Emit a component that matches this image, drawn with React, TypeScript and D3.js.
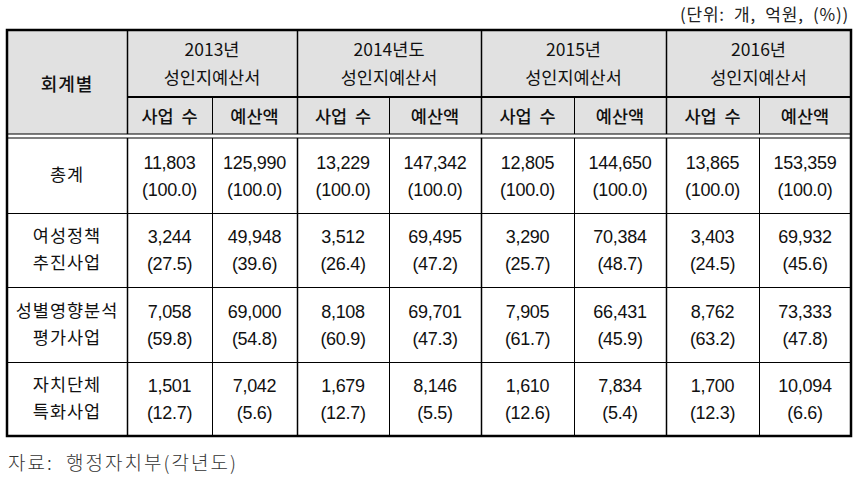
import React, { useEffect, useRef } from "react";
import * as d3 from "d3";

const categories = ["총계", "여성정책\n추진사업", "성별영향분석\n평가사업", "자치단체\n특화사업"];
const years = ["2013년", "2014년도", "2015년", "2016년"];
const subHeaders = ["사업 수", "예산액"];

const counts2013 = [11803, 3244, 7058, 1501];
const countPct2013 = [100.0, 27.5, 59.8, 12.7];
const budget2013 = [125990, 49948, 69000, 7042];
const budgetPct2013 = [100.0, 39.6, 54.8, 5.6];

const counts2014 = [13229, 3512, 8108, 1679];
const countPct2014 = [100.0, 26.4, 60.9, 12.7];
const budget2014 = [147342, 69495, 69701, 8146];
const budgetPct2014 = [100.0, 47.2, 47.3, 5.5];

const counts2015 = [12805, 3290, 7905, 1610];
const countPct2015 = [100.0, 25.7, 61.7, 12.6];
const budget2015 = [144650, 70384, 66431, 7834];
const budgetPct2015 = [100.0, 48.7, 45.9, 5.4];

const counts2016 = [13865, 3403, 8762, 1700];
const countPct2016 = [100.0, 24.5, 63.2, 12.3];
const budget2016 = [153359, 69932, 73333, 10094];
const budgetPct2016 = [100.0, 45.6, 47.8, 6.6];

const unitLabel = "(단위: 개, 억원, (%))";
const headerLabel = "회계별";
const groupSub = "성인지예산서";
const source = "자료:  행정자치부(각년도)";

const W = 858;
const H = 483;
const KR = "'Noto Sans CJK KR', 'Noto Sans', sans-serif";
const NUM = "'Liberation Sans Narrow', 'Liberation Sans', Arial, sans-serif";

export default function App() {
  const svgRef = useRef<SVGSVGElement | null>(null);

  useEffect(() => {
    const svg = d3.select(svgRef.current);
    svg.selectAll("*").remove();

    const valueCols = [
      [counts2013, countPct2013],
      [budget2013, budgetPct2013],
      [counts2014, countPct2014],
      [budget2014, budgetPct2014],
      [counts2015, countPct2015],
      [budget2015, budgetPct2015],
      [counts2016, countPct2016],
      [budget2016, budgetPct2016],
    ];

    // column edges
    const colW = [120, 85, 85, 92, 92, 93, 92, 93, 92];
    const xs = [7, ...Array.from(d3.cumsum(colW)).map((d) => 7 + d)];
    const left = xs[0];
    const right = xs[xs.length - 1];

    const top = 30;
    const h1 = 97;
    const hEnd = 134;
    const bodyTop = 138;
    const bottom = 436;
    const rowBand = d3
      .scaleBand<number>()
      .domain(d3.range(categories.length))
      .range([bodyTop, bottom]);

    const fmt = d3.format(",");
    const pct = d3.format(".1f");

    // header background
    svg
      .append("rect")
      .attr("x", left)
      .attr("y", top)
      .attr("width", right - left)
      .attr("height", hEnd - top)
      .attr("fill", "#e1e1e1");

    const g = svg.append("g").attr("stroke", "#000").attr("fill", "none");
    const line = (x1: number, y1: number, x2: number, y2: number, w = 1) =>
      g.append("line").attr("x1", x1).attr("y1", y1).attr("x2", x2).attr("y2", y2).attr("stroke-width", w);

    // horizontal rules
    line(left + 120, h1, right, h1, 2);
    line(left, hEnd, right, hEnd, 1.2);
    line(left, bodyTop, right, bodyTop, 1.2);
    rowBand.domain().slice(1).forEach((i) => {
      const y = Math.round(rowBand(i)!) + 0.5;
      line(left, y, right, y, 1);
    });

    // vertical rules
    xs.slice(1, -1).forEach((x, i) => {
      const isGroup = i % 2 === 0;
      const y0 = isGroup ? top : h1;
      line(Math.round(x) + 0.5, y0, Math.round(x) + 0.5, hEnd, isGroup ? 1.5 : 1);
      line(Math.round(x) + 0.5, bodyTop, Math.round(x) + 0.5, bottom, isGroup ? 1.5 : 1);
    });

    // outer frame
    g.append("rect")
      .attr("x", left)
      .attr("y", top)
      .attr("width", right - left)
      .attr("height", bottom - top)
      .attr("stroke-width", 2.5);

    const txt = svg.append("g").attr("fill", "#111").attr("text-anchor", "middle");

    // header texts
    txt
      .append("text")
      .attr("x", (xs[0] + xs[1]) / 2)
      .attr("y", 85)
      .attr("dy", "0.35em")
      .attr("font-family", KR)
      .attr("font-size", 18)
      .attr("font-weight", 500)
      .attr("letter-spacing", 1)
      .text(headerLabel);

    years.forEach((yr, i) => {
      const cx = (xs[1 + i * 2] + xs[3 + i * 2]) / 2;
      const t = txt
        .append("text")
        .attr("font-family", KR)
        .attr("font-size", 17.5);
      t.append("tspan").attr("x", cx).attr("y", 50).attr("dy", "0.35em").text(yr);
      t.append("tspan").attr("x", cx).attr("y", 78).attr("dy", "0.35em").text(groupSub);
      subHeaders.forEach((s, j) => {
        txt
          .append("text")
          .attr("x", (xs[1 + i * 2 + j] + xs[2 + i * 2 + j]) / 2)
          .attr("y", 117)
          .attr("dy", "0.35em")
          .attr("font-family", KR)
          .attr("font-size", 17.5)
          .attr("font-weight", 500)
          .attr("xml:space", "preserve")
          .text(s.replace(" ", "  "));
      });
    });

    // body
    categories.forEach((cat, r) => {
      const cy = rowBand(r)! + rowBand.bandwidth() / 2;
      const t = txt.append("text").attr("font-family", KR).attr("font-size", 17.5);
      cat.split("\n").forEach((ln, k, arr) => {
        t.append("tspan")
          .attr("x", (xs[0] + xs[1]) / 2)
          .attr("y", cy + (k - (arr.length - 1) / 2) * 27)
          .attr("dy", "0.35em")
          .attr("letter-spacing", 1)
          .text(ln);
      });
      valueCols.forEach(([vals, pcts], c) => {
        const cx = (xs[1 + c] + xs[2 + c]) / 2;
        const tt = txt
          .append("text")
          .attr("font-family", NUM)
          .attr("font-size", 18)
          .attr("letter-spacing", -0.3);
        tt.append("tspan").attr("x", cx).attr("y", cy - 13).attr("dy", "0.35em").text(fmt(vals[r]));
        tt.append("tspan").attr("x", cx).attr("y", cy + 14).attr("dy", "0.35em").text(`(${pct(pcts[r])})`);
      });
    });

    // unit label and source
    svg
      .append("text")
      .attr("x", 849)
      .attr("y", 15)
      .attr("dy", "0.35em")
      .attr("text-anchor", "end")
      .attr("font-family", KR)
      .attr("font-size", 17)
      .attr("letter-spacing", 0.8)
      .attr("fill", "#222")
      .attr("xml:space", "preserve")
      .text(unitLabel.replace(/ /g, "  "));

    svg
      .append("text")
      .attr("x", 8)
      .attr("y", 463)
      .attr("dy", "0.35em")
      .attr("font-family", KR)
      .attr("font-size", 19)
      .attr("font-weight", 300)
      .attr("letter-spacing", 2)
      .attr("fill", "#333")
      .attr("xml:space", "preserve")
      .text(source);
  }, []);

  return (
    <svg
      ref={svgRef}
      width={W}
      height={H}
      style={{ position: "absolute", left: 0, top: 0, background: "#fff" }}
    />
  );
}
